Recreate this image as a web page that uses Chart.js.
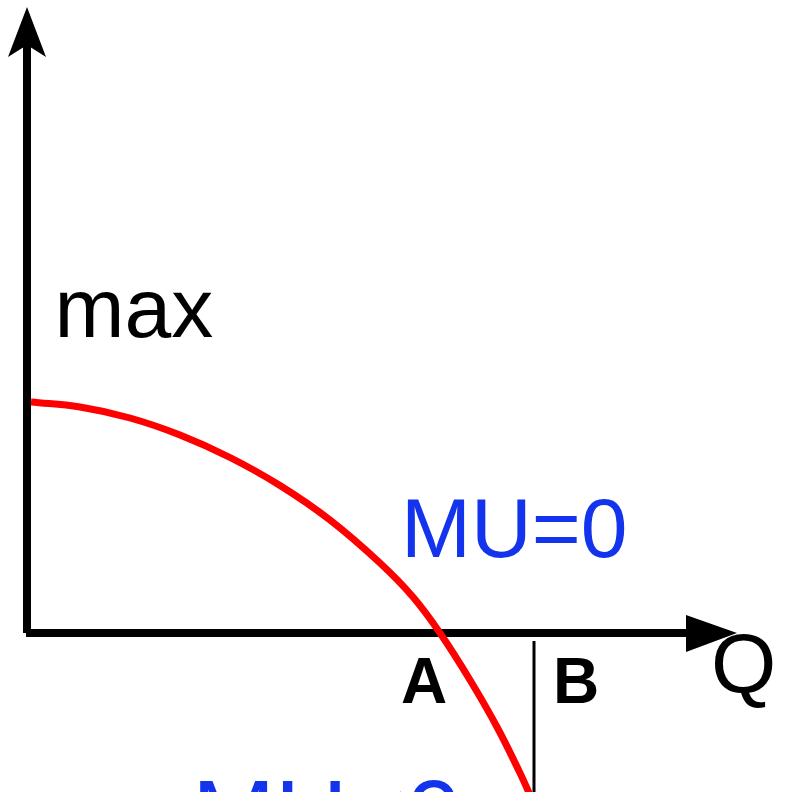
<!DOCTYPE html>
<html>
<head>
<meta charset="utf-8">
<script src="https://cdn.jsdelivr.net/npm/chart.js@4.4.1/dist/chart.umd.min.js"></script>
<style>
  html, body { margin: 0; padding: 0; background: #fff; }
  #chart { display: block; }
</style>
</head>
<body>
<canvas id="chart" width="789" height="792"></canvas>
<script>
// total utility against quantity
const quantity = [0.04, 0.53, 1.03, 1.53, 2.03, 2.53, 3.03, 3.53, 3.86, 4.13, 4.43, 4.70, 4.93, 5.03];
const utility  = [2.31, 2.26, 2.15, 1.98, 1.755, 1.475, 1.13, 0.70, 0.36, 0.00, -0.47, -0.94, -1.40, -1.62];

// marker line at B
const markerQ = 5.07;
const markerTop = -0.08;

const labels = [
  { text: "max",  q: 0.275, u: 2.96,  font: "84px 'Liberation Sans', Arial, sans-serif", color: "#000" },
  { text: "MU=0", q: 3.74,  u: 0.76,  font: "84px 'Liberation Sans', Arial, sans-serif", color: "#1433ec" },
  { text: "Q",    q: 6.84,  u: -0.59, font: "84px 'Liberation Sans', Arial, sans-serif", color: "#000" },
  { text: "A",    q: 3.74,  u: -0.70, font: "bold 64px 'Liberation Sans', Arial, sans-serif", color: "#000" },
  { text: "B",    q: 5.26,  u: -0.70, font: "bold 64px 'Liberation Sans', Arial, sans-serif", color: "#000" },
  { text: "MU<0", q: 1.65,  u: -2.17, font: "100px 'Liberation Sans', Arial, sans-serif", color: "#1433ec" }
];

function drawPolygon(ctx, x, y, pts) {
  ctx.beginPath();
  pts.forEach(([q, u], i) => {
    const px = x.getPixelForValue(q), py = y.getPixelForValue(u);
    if (i === 0) ctx.moveTo(px, py); else ctx.lineTo(px, py);
  });
  ctx.closePath();
  ctx.fill();
}

const background = {
  id: "background",
  beforeDraw(chart) {
    const ctx = chart.ctx;
    ctx.save();
    ctx.fillStyle = "#fff";
    ctx.fillRect(0, 0, chart.width, chart.height);
    ctx.restore();
  }
};

// axes with arrow heads, under the curve
const axes = {
  id: "axes",
  beforeDatasetsDraw(chart) {
    const { ctx, scales: { x, y } } = chart;
    ctx.save();
    ctx.strokeStyle = "#000";
    ctx.fillStyle = "#000";
    ctx.lineWidth = 8;
    ctx.beginPath();
    ctx.moveTo(x.getPixelForValue(0), y.getPixelForValue(5.9));
    ctx.lineTo(x.getPixelForValue(0), y.getPixelForValue(0));
    ctx.moveTo(x.getPixelForValue(-0.01), y.getPixelForValue(0));
    ctx.lineTo(x.getPixelForValue(6.65), y.getPixelForValue(0));
    ctx.stroke();
    drawPolygon(ctx, x, y, [[0, 6.26], [0.19, 5.76], [0, 5.88], [-0.19, 5.76]]);
    drawPolygon(ctx, x, y, [[6.59, 0.18], [7.10, 0], [6.59, -0.19]]);
    ctx.restore();
  }
};

const textLabels = {
  id: "textLabels",
  afterDatasetsDraw(chart) {
    const { ctx, scales: { x, y } } = chart;
    ctx.save();
    ctx.textAlign = "left";
    ctx.textBaseline = "alphabetic";
    labels.forEach(l => {
      ctx.font = l.font;
      ctx.fillStyle = l.color;
      ctx.fillText(l.text, x.getPixelForValue(l.q), y.getPixelForValue(l.u));
    });
    ctx.restore();
  }
};

new Chart(document.getElementById("chart"), {
  type: "line",
  data: {
    datasets: [
      {
        data: quantity.map((q, i) => ({ x: q, y: utility[i] })),
        borderColor: "#ff0000",
        borderWidth: 7,
        pointRadius: 0,
        tension: 0.4,
        borderCapStyle: "butt"
      },
      {
        data: [{ x: markerQ, y: markerTop }, { x: markerQ, y: -1.7 }],
        borderColor: "#000",
        borderWidth: 3,
        pointRadius: 0
      }
    ]
  },
  options: {
    responsive: false,
    devicePixelRatio: 1,
    animation: false,
    layout: { padding: 0 },
    plugins: {
      legend: { display: false },
      tooltip: { enabled: false }
    },
    scales: {
      x: { type: "linear", min: -0.27, max: 7.62, display: false },
      y: { type: "linear", min: -1.59, max: 6.33, display: false }
    }
  },
  plugins: [background, axes, textLabels]
});
</script>
</body>
</html>
